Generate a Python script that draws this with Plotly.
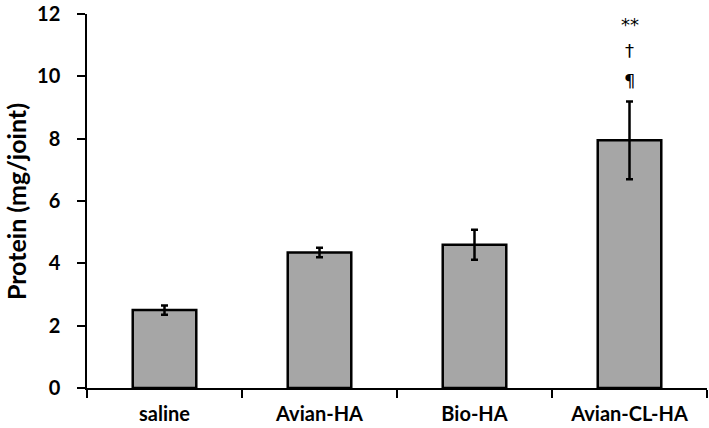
import plotly.graph_objects as go

categories = ["saline", "Avian-HA", "Bio-HA", "Avian-CL-HA"]
protein = [2.5, 4.35, 4.6, 7.95]
sem = [0.15, 0.15, 0.48, 1.25]
y_ticks = [0, 2, 4, 6, 8, 10, 12]
sig_marks = ["**", "†", "¶"]
sig_y = [11.68, 10.83, 9.87]

FONT = "Lato"

fig = go.Figure()
fig.add_trace(go.Bar(
    x=categories, y=protein,
    marker=dict(color="#A6A6A6", line=dict(color="black", width=2.5)),
    error_y=dict(type="data", array=sem, visible=True, color="black", thickness=2.5, width=3.5),
    width=0.41,
))

for s, yy in zip(sig_marks, sig_y):
    fig.add_annotation(x=categories[3], y=yy, text=s, showarrow=False,
                       font=dict(family="DejaVu Sans", size=18, color="black"),
                       xanchor="center", yanchor="middle")

fig.add_annotation(xref="paper", yref="paper", x=(16 - 87) / 620, y=0.497,
                   text="<b>Protein (mg/joint)</b>", textangle=-90, showarrow=False,
                   font=dict(family=FONT, size=25, color="black"),
                   xanchor="center", yanchor="middle")

fig.update_layout(
    width=709, height=428,
    margin=dict(l=87, r=2, t=14, b=40, autoexpand=False),
    paper_bgcolor="white", plot_bgcolor="white",
    showlegend=False,
    font=dict(family=FONT, color="black"),
    xaxis=dict(
        range=[-0.5, 3.5], showline=True, linecolor="black", linewidth=1.5,
        ticks="outside", tickson="boundaries", ticklen=8, tickwidth=1.5, tickcolor="black",
        tickfont=dict(family=FONT, size=20, color="black", weight="bold"),
        showgrid=False, zeroline=False, ticklabelstandoff=7, automargin=False,
    ),
    yaxis=dict(
        range=[0, 12.005], tickvals=y_ticks, showline=True, linecolor="black", linewidth=1.5,
        ticks="outside", ticklen=8, tickwidth=1.5, tickcolor="black",
        tickfont=dict(family=FONT, size=20, color="black", weight="bold"),
        showgrid=False, zeroline=False, ticklabelstandoff=13,
        ticklabeloverflow="allow", automargin=False,
    ),
)

fig.write_html("out.html", config={"displayModeBar": False},
               post_script="document.body.style.margin='0';")
